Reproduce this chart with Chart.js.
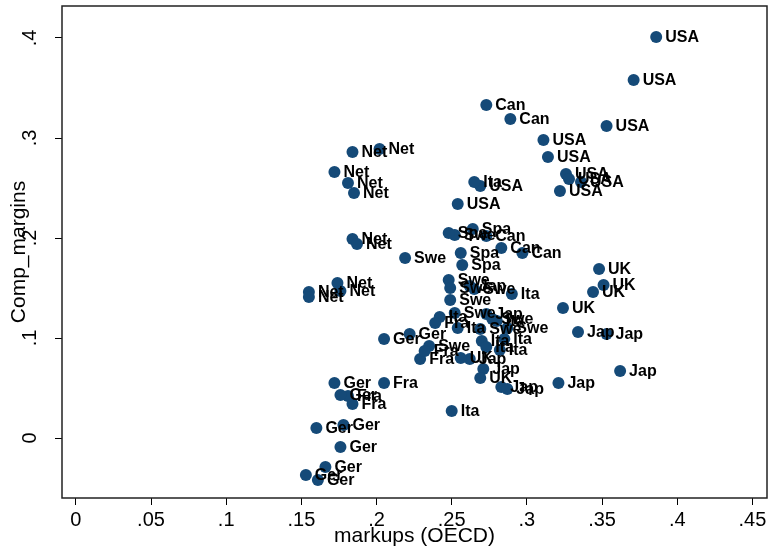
<!DOCTYPE html>
<html>
<head>
<meta charset="UTF-8">
<title>Comp_margins vs markups</title>
<script src="https://cdn.jsdelivr.net/npm/chart.js"></script>
<style>
  html, body { margin: 0; padding: 0; background: #fff; }
  #wrap { width: 773px; height: 549px; }
</style>
</head>
<body>
<div id="wrap"><canvas id="c" width="773" height="549"></canvas></div>
<script>
// data: one entry per point
const countries = [
  "USA","USA","USA","USA","USA","USA","USA","USA","USA","USA","USA",
  "Can","Can","Can","Can","Can",
  "Ita",
  "Net","Net","Net","Net","Net","Net","Net","Net","Net","Net","Net",
  "Swe","Swe","Swe","Swe","Swe","Swe","Swe","Swe","Swe","Swe","Swe",
  "Spa","Spa","Spa","Spa",
  "Jap","Jap","Jap","Jap","Jap","Jap","Jap","Jap","Jap","Jap",
  "UK","UK","UK","UK","UK","UK",
  "Ita","Ita","Ita","Ita","Ita","Ita","Ita","Ita","Ita",
  "Fra","Fra","Fra","Fra","Fra","Fra",
  "Ger","Ger","Ger","Ger","Ger","Ger","Ger","Ger","Ger","Ger"
];
const markups = [
  0.386,0.371,0.353,0.311,0.314,0.326,0.328,0.336,0.322,0.254,0.269,
  0.273,0.289,0.273,0.283,0.297,
  0.265,
  0.202,0.184,0.172,0.181,0.185,0.184,0.187,0.174,0.176,0.155,0.155,
  0.219,0.252,0.248,0.249,0.265,0.249,0.252,0.269,0.235,0.287,0.277,
  0.248,0.264,0.256,0.257,
  0.262,0.273,0.334,0.353,0.362,0.321,0.271,0.283,0.262,0.287,
  0.348,0.351,0.344,0.324,0.269,0.256,
  0.290,0.254,0.280,0.270,0.273,0.250,0.242,0.285,0.282,
  0.239,0.229,0.232,0.205,0.184,0.181,
  0.222,0.205,0.172,0.176,0.178,0.160,0.176,0.166,0.153,0.161
];
const margins = [
  0.401,0.358,0.312,0.298,0.281,0.264,0.259,0.256,0.247,0.234,0.252,
  0.333,0.319,0.202,0.190,0.185,
  0.256,
  0.289,0.286,0.266,0.255,0.245,0.199,0.194,0.155,0.147,0.146,0.141,
  0.180,0.203,0.158,0.150,0.149,0.138,0.125,0.109,0.092,0.110,0.119,
  0.205,0.209,0.185,0.173,
  0.152,0.124,0.106,0.104,0.067,0.055,0.069,0.051,0.079,0.049,
  0.169,0.153,0.146,0.130,0.060,0.080,
  0.144,0.110,0.117,0.097,0.091,0.027,0.121,0.099,0.088,
  0.115,0.079,0.087,0.055,0.034,0.042,
  0.104,0.099,0.055,0.043,0.013,0.010,-0.009,-0.029,-0.037,-0.042
];
const xTicks = [0, 0.05, 0.1, 0.15, 0.2, 0.25, 0.3, 0.35, 0.4, 0.45];
const yTicks = [0, 0.1, 0.2, 0.3, 0.4];

const FONT = "'Liberation Sans', Arial, sans-serif";

function stataNum(v) {
  if (v === 0) return "0";
  return v.toFixed(2).replace(/0+$/, "").replace(/^0/, "");
}

// frame around plot region (Stata style box)
const framePlugin = {
  id: "frame",
  afterDraw(chart) {
    const a = chart.chartArea, ctx = chart.ctx;
    ctx.save();
    ctx.strokeStyle = "#222";
    ctx.lineWidth = 1.5;
    ctx.strokeRect(a.left, a.top, a.right - a.left, a.bottom - a.top);
    ctx.restore();
  }
};

// country labels to the right of each marker
const labelPlugin = {
  id: "pointLabels",
  afterDatasetsDraw(chart) {
    const ctx = chart.ctx;
    const meta = chart.getDatasetMeta(0);
    ctx.save();
    ctx.font = "bold 16px " + FONT;
    ctx.fillStyle = "#000";
    ctx.textAlign = "left";
    ctx.textBaseline = "middle";
    meta.data.forEach((pt, i) => {
      ctx.fillText(countries[i], pt.x + 9, pt.y + 1);
    });
    ctx.restore();
  }
};

new Chart(document.getElementById("c"), {
  type: "scatter",
  data: {
    datasets: [{
      data: markups.map((m, i) => ({ x: m, y: margins[i] })),
      backgroundColor: "#154a78",
      borderWidth: 0,
      pointRadius: 6,
      pointHoverRadius: 6
    }]
  },
  options: {
    responsive: false,
    animation: false,
    layout: { padding: { top: 5, right: 1, left: 0, bottom: 0 } },
    plugins: { legend: { display: false }, tooltip: { enabled: false } },
    scales: {
      x: {
        type: "linear",
        position: "bottom",
        min: -0.0092,
        max: 0.4597,
        afterBuildTicks: s => { s.ticks = xTicks.map(v => ({ value: v })); },
        afterFit: s => { s.height = 51; s.paddingLeft = 0; s.paddingRight = 0; },
        grid: { display: true, drawOnChartArea: false, drawTicks: true, tickLength: 7, color: "#000", lineWidth: 1 },
        border: { display: false },
        ticks: {
          autoSkip: false, maxRotation: 0, padding: 3, color: "#000",
          font: { family: FONT, size: 20 },
          callback: v => stataNum(v)
        },
        title: {
          display: true, text: "markups (OECD)", color: "#000",
          font: { family: FONT, size: 21 }, padding: { top: 0, bottom: 0 }
        }
      },
      y: {
        type: "linear",
        position: "left",
        min: -0.060,
        max: 0.432,
        afterBuildTicks: s => { s.ticks = yTicks.map(v => ({ value: v })); },
        afterFit: s => { s.width = 62; s.paddingTop = 0; s.paddingBottom = 0; },
        grid: { display: true, drawOnChartArea: false, drawTicks: true, tickLength: 7, color: "#000", lineWidth: 1 },
        border: { display: false },
        ticks: {
          autoSkip: false, minRotation: 90, maxRotation: 90, crossAlign: "center",
          padding: 16, color: "#000",
          font: { family: FONT, size: 20 },
          callback: v => stataNum(v)
        },
        title: {
          display: true, text: "Comp_margins", color: "#000",
          font: { family: FONT, size: 21 }, padding: { top: 7, bottom: 0 }
        }
      }
    }
  },
  plugins: [framePlugin, labelPlugin]
});
</script>
</body>
</html>
